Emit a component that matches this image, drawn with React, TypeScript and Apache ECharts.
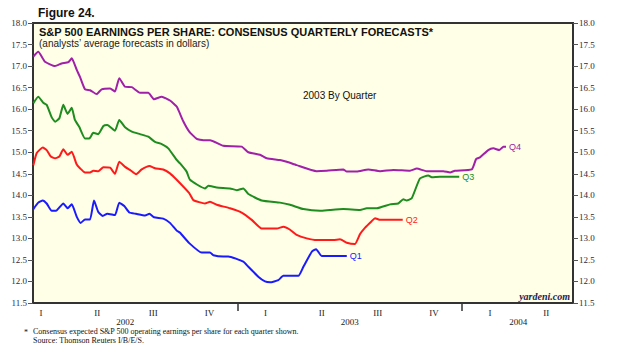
import React, { useEffect, useRef } from "react";
import * as echarts from "echarts";

// x = months since Jan 1 2002 (12 = Jan 2003, 24 = Jan 2004); y = dollars
const q4Data: [number, number][] = [
  [1.09, 17.22], [1.35, 17.33], [1.71, 17.1], [2.25, 17.0], [2.6, 17.06], [2.96, 17.09], [3.14, 17.18],
  [3.41, 16.91], [3.58, 16.75], [3.85, 16.46], [4.12, 16.44], [4.47, 16.35], [4.74, 16.46], [5.19, 16.48],
  [5.45, 16.41], [5.68, 16.72], [5.99, 16.52], [6.35, 16.51], [6.79, 16.38], [7.23, 16.38], [7.54, 16.23],
  [7.95, 16.29], [8.39, 16.2], [8.75, 16.06], [9.1, 15.72], [9.42, 15.48], [9.82, 15.31], [10.17, 15.28],
  [10.53, 15.28], [11.24, 15.15], [12.22, 15.13], [12.58, 15.0], [13.2, 14.94], [13.56, 14.86], [14.27, 14.82],
  [14.63, 14.78], [15.16, 14.7], [16.23, 14.56], [16.77, 14.57], [17.65, 14.6], [17.84, 14.55], [18.37, 14.55],
  [18.99, 14.6], [19.62, 14.56], [20.33, 14.59], [21.22, 14.57], [21.58, 14.62], [22.11, 14.56], [23.0, 14.56],
  [23.36, 14.53], [23.62, 14.57], [24.52, 14.6], [24.75, 14.84], [24.96, 14.88], [25.4, 15.05], [25.67, 15.09],
  [25.99, 15.05], [26.21, 15.13], [26.35, 15.13],
];
const q3Data: [number, number][] = [
  [1.09, 16.14], [1.35, 16.29], [1.62, 16.15], [1.8, 16.1], [2.07, 15.81], [2.25, 15.71], [2.48, 15.79],
  [2.69, 16.1], [2.92, 15.89], [3.14, 16.03], [3.31, 15.75], [3.54, 15.59], [3.85, 15.32], [4.08, 15.32],
  [4.29, 15.45], [4.56, 15.42], [4.83, 15.61], [5.04, 15.63], [5.45, 15.5], [5.68, 15.75], [5.99, 15.58],
  [6.35, 15.48], [6.79, 15.42], [7.23, 15.36], [7.59, 15.24], [7.95, 15.19], [8.3, 15.09], [8.75, 14.82],
  [8.93, 14.74], [9.28, 14.55], [9.46, 14.36], [10.26, 14.16], [10.44, 14.22], [10.89, 14.18], [11.6, 14.16],
  [11.96, 14.12], [12.31, 14.16], [12.58, 14.03], [13.29, 13.88], [14.27, 13.83], [14.81, 13.78], [15.52, 13.68],
  [16.41, 13.64], [16.94, 13.66], [17.65, 13.68], [18.55, 13.66], [18.91, 13.7], [19.44, 13.7], [20.15, 13.79],
  [20.59, 13.81], [20.86, 13.91], [21.04, 13.88], [21.31, 13.93], [21.75, 14.39], [22.2, 14.46], [22.38, 14.42],
  [22.82, 14.43], [23.36, 14.43], [23.85, 14.43],
];
const q2Data: [number, number][] = [
  [1.09, 14.7], [1.27, 14.98], [1.59, 15.11], [1.8, 15.05], [2.02, 14.9], [2.25, 14.86], [2.48, 14.9],
  [2.69, 15.07], [2.92, 14.94], [3.14, 15.01], [3.4, 14.72], [3.58, 14.63], [3.85, 14.53], [4.12, 14.53],
  [4.29, 14.57], [4.56, 14.56], [4.83, 14.65], [5.19, 14.64], [5.45, 14.5], [5.68, 14.78], [5.99, 14.66],
  [6.25, 14.59], [6.58, 14.49], [6.88, 14.6], [7.29, 14.68], [7.59, 14.63], [8.03, 14.6], [8.39, 14.51],
  [8.75, 14.36], [9.42, 14.05], [9.64, 13.89], [10.26, 13.81], [10.53, 13.85], [10.89, 13.78], [11.6, 13.7],
  [12.22, 13.6], [12.76, 13.43], [13.29, 13.23], [14.1, 13.23], [14.45, 13.27], [14.81, 13.2], [15.16, 13.08],
  [15.7, 13.0], [16.23, 12.96], [17.12, 12.96], [17.48, 12.98], [17.84, 12.9], [18.28, 12.87], [18.55, 13.1],
  [18.82, 13.25], [19.17, 13.4], [19.35, 13.47], [19.62, 13.43], [20.83, 13.43],
];
const q1Data: [number, number][] = [
  [1.09, 13.68], [1.35, 13.83], [1.59, 13.88], [1.8, 13.81], [2.07, 13.64], [2.3, 13.64], [2.69, 13.81],
  [2.92, 13.7], [3.14, 13.79], [3.41, 13.5], [3.62, 13.36], [3.85, 13.44], [4.12, 13.44], [4.33, 13.88],
  [4.56, 13.61], [4.8, 13.52], [5.04, 13.57], [5.45, 13.54], [5.68, 13.83], [5.95, 13.75], [6.22, 13.6],
  [6.58, 13.57], [7.06, 13.53], [7.29, 13.57], [7.54, 13.49], [8.03, 13.46], [8.39, 13.36], [8.75, 13.18],
  [8.93, 13.13], [9.42, 12.89], [10.09, 12.67], [10.53, 12.67], [10.71, 12.61], [11.24, 12.58], [11.51, 12.58],
  [12.31, 12.46], [12.58, 12.34], [13.11, 12.11], [13.47, 12.0], [13.74, 11.98], [14.18, 12.03], [14.45, 12.13],
  [15.25, 12.13], [15.52, 12.34], [15.97, 12.69], [16.2, 12.75], [16.5, 12.59], [17.84, 12.59],
];

const seriesNames = ["Q1", "Q2", "Q3", "Q4"];
const seriesColors = ["#1a1aff", "#ff1a1a", "#1e8c1e", "#a020a8"];

const quarterCenters = [1.5, 4.5, 7.5, 10.5, 13.5, 16.5, 19.5, 22.5, 25.5, 28.5];
const quarterNames = ["I", "II", "III", "IV", "I", "II", "III", "IV", "I", "II"];
const yearCenters = [6, 18, 27];
const yearNames = ["2002", "2003", "2004"];
const yearBreaks = [12, 24];

const xMin = 1.07;
const xMax = 29.93;
const yMin = 11.5;
const yMax = 18;

const SANS = "Liberation Sans, Arial, sans-serif";
const SERIF = "Liberation Serif, Times New Roman, serif";

function nearestLabel(v: number, centers: number[], names: string[]) {
  let best = 0;
  for (let i = 1; i < centers.length; i++) {
    if (Math.abs(centers[i] - v) < Math.abs(centers[best] - v)) best = i;
  }
  return names[best];
}

export default function App() {
  const ref = useRef<HTMLDivElement>(null);
  useEffect(() => {
    const chart = echarts.init(ref.current!, null, { renderer: "svg" });
    const datasets = [q1Data, q2Data, q3Data, q4Data];
    const yAxisCommon = {
      type: "value",
      min: yMin,
      max: yMax,
      interval: 0.5,
      splitLine: { show: false },
      axisLine: { show: true, lineStyle: { color: "#333", width: 2 } },
      axisTick: { show: true, length: 5, lineStyle: { color: "#555", width: 1 } },
      axisLabel: {
        fontFamily: SERIF,
        fontSize: 9,
        color: "#2a2a3a",
        margin: 6,
        formatter: (v: number) => v.toFixed(1),
      },
    };
    chart.setOption({
      animation: false,
      backgroundColor: "#ffffff",
      grid: {
        left: 33,
        right: 45,
        top: 23,
        bottom: 43,
        show: true,
        backgroundColor: "#fffee6",
        borderColor: "#333",
        borderWidth: 2,
      },
      xAxis: [
        {
          type: "value",
          min: xMin,
          max: xMax,
          position: "bottom",
          splitLine: { show: false },
          axisLine: { show: true, onZero: false, lineStyle: { color: "#333", width: 2 } },
          axisTick: {
            show: true,
            customValues: yearBreaks,
            length: 8,
            lineStyle: { color: "#333", width: 1.5 },
          },
          axisLabel: {
            customValues: quarterCenters,
            fontFamily: SERIF,
            fontSize: 9,
            color: "#222",
            margin: 5,
            formatter: (v: number) => nearestLabel(v, quarterCenters, quarterNames),
          },
        },
        {
          type: "value",
          min: xMin,
          max: xMax,
          position: "bottom",
          offset: 0,
          splitLine: { show: false },
          axisLine: { show: false, onZero: false },
          axisTick: { show: false },
          axisLabel: {
            customValues: yearCenters,
            fontFamily: SERIF,
            fontSize: 9,
            color: "#222",
            margin: 14,
            formatter: (v: number) => nearestLabel(v, yearCenters, yearNames),
          },
        },
      ],
      yAxis: [
        { ...yAxisCommon, position: "left" },
        { ...yAxisCommon, position: "right" },
      ],
      series: datasets.map((d, i) => ({
        type: "line",
        name: seriesNames[i],
        data: d,
        xAxisIndex: 0,
        yAxisIndex: 0,
        showSymbol: false,
        smooth: 0.15,
        lineStyle: { color: seriesColors[i], width: 2 },
        itemStyle: { color: seriesColors[i] },
        endLabel: {
          show: true,
          formatter: seriesNames[i],
          color: seriesColors[i],
          fontFamily: SANS,
          fontSize: 9,
          distance: 3,
        },
        z: 3,
      })),
      graphic: [
        {
          type: "text",
          left: 38,
          top: 7,
          style: { text: "Figure 24.", font: `bold 12px ${SANS}`, fill: "#111" },
        },
        {
          type: "text",
          left: 39,
          top: 26,
          style: {
            text: "S&P 500 EARNINGS PER SHARE: CONSENSUS QUARTERLY FORECASTS*",
            font: `bold 11px ${SANS}`,
            fill: "#111",
          },
          z: 10,
        },
        {
          type: "text",
          left: 39,
          top: 38,
          style: { text: "(analysts\u2019 average forecasts in dollars)", font: `10px ${SANS}`, fill: "#222" },
          z: 10,
        },
        {
          type: "text",
          left: 303,
          top: 90,
          style: { text: "2003 By Quarter", font: `10px ${SANS}`, fill: "#111" },
          z: 10,
        },
        {
          type: "text",
          right: 48,
          top: 291,
          style: { text: "yardeni.com", font: `italic bold 10px ${SERIF}`, fill: "#1c1c50" },
          z: 10,
        },
        {
          type: "text",
          left: 24,
          top: 328,
          style: { text: "*", font: `8px ${SERIF}`, fill: "#111" },
        },
        {
          type: "text",
          left: 33,
          top: 327,
          style: {
            text: "Consensus expected S&P 500 operating earnings per share for each quarter shown.",
            font: `8px ${SERIF}`,
            fill: "#111",
          },
        },
        {
          type: "text",
          left: 33,
          top: 336.5,
          style: {
            text: "Source: Thomson Reuters I/B/E/S.",
            font: `8px ${SERIF}`,
            fill: "#111",
          },
        },
      ],
    });
    return () => chart.dispose();
  }, []);
  return (
    <div
      ref={ref}
      style={{ position: "fixed", left: 0, top: 0, width: 618, height: 346, background: "#fff" }}
    />
  );
}
